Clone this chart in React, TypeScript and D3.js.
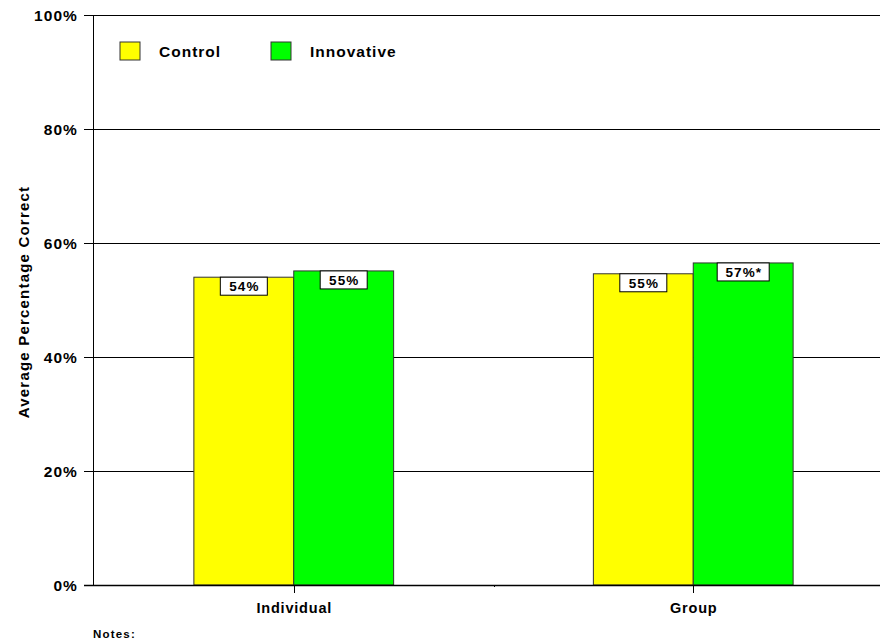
import React from "react";
import * as d3 from "d3";

const categories = ["Individual", "Group"];
const seriesNames = ["Control", "Innovative"];
const controlValues = [54.0, 54.6];
const innovativeValues = [55.1, 56.5];
const controlLabels = ["54%", "55%"];
const innovativeLabels = ["55%", "57%*"];
const yTicks = [0, 20, 40, 60, 80, 100];
const colors = ["#FFFF00", "#00FF00"];

const W = 880;
const H = 643;
const left = 93;
const top = 15;
const bottom = 585;

export default function App() {
  const y = d3.scaleLinear().domain([0, 100]).range([bottom, top]);
  const x = d3.scaleBand().domain(categories).range([left + 1, 893]).padding(0);
  const bw = x.bandwidth();
  const sub = d3.scaleBand().domain(seriesNames).range([bw * 0.25, bw * 0.75]);
  const series = [
    { name: "Control", values: controlValues, labels: controlLabels, color: colors[0] },
    { name: "Innovative", values: innovativeValues, labels: innovativeLabels, color: colors[1] },
  ];
  const font = "'Liberation Sans', Arial, sans-serif";
  const catTicks = [x("Individual")! + bw / 2, x("Individual")! + bw, x("Group")! + bw / 2];

  return (
    <svg width={W} height={H} style={{ position: "absolute", left: 0, top: 0, background: "#fff" }} fontFamily={font}>
      {/* gridlines */}
      {yTicks.map((t) => (
        <g key={t}>
          <line x1={84} x2={W} y1={Math.round(y(t)) + 0.5} y2={Math.round(y(t)) + 0.5} stroke="#000" strokeWidth={1} />
          <text x={78} y={y(t) + 5.5} textAnchor="end" fontSize={15.5} fontWeight="bold" letterSpacing={1.1}>{t + "%"}</text>
        </g>
      ))}
      {/* bars */}
      {series.map((s) =>
        categories.map((c, i) => {
          const bx = x(c)! + sub(s.name)!;
          const by = y(s.values[i]);
          return (
            <rect key={s.name + c} x={bx} y={by} width={sub.bandwidth()} height={bottom - by} fill={s.color} stroke="#333" strokeWidth={1} />
          );
        })
      )}
      {/* axes */}
      <line x1={left + 0.5} x2={left + 0.5} y1={top} y2={bottom} stroke="#000" strokeWidth={1} />
      <line x1={84} x2={W} y1={bottom + 0.5} y2={bottom + 0.5} stroke="#000" strokeWidth={1.3} />
      {catTicks.map((cx, i) => (
        <line key={i} x1={Math.round(cx) + 0.5} x2={Math.round(cx) + 0.5} y1={bottom} y2={i === 1 ? bottom + 2 : bottom + 8} stroke="#000" strokeWidth={1} />
      ))}
      {categories.map((c) => (
        <text key={c} x={x(c)! + bw / 2 + 0.5} y={613} textAnchor="middle" fontSize={14.5} fontWeight="bold" letterSpacing={0.8}>{c}</text>
      ))}
      {/* value labels */}
      {series.map((s) =>
        categories.map((c, i) => {
          const cx = x(c)! + sub(s.name)! + sub.bandwidth() / 2;
          const by = y(s.values[i]);
          const lbl = s.labels[i];
          const w = lbl.length > 3 ? 52 : 47;
          return (
            <g key={"l" + s.name + c}>
              <rect x={cx - w / 2} y={by} width={w} height={18} fill="#fff" stroke="#000" strokeWidth={1} />
              <text x={cx + 0.6} y={by + 14} textAnchor="middle" fontSize={13.5} fontWeight="bold" letterSpacing={1.1}>{lbl}</text>
            </g>
          );
        })
      )}
      {/* legend */}
      {series.map((s, i) => (
        <g key={"leg" + s.name} transform={`translate(${120 + i * 151},42)`}>
          <rect x={0} y={0} width={20} height={18} fill={s.color} stroke="#333" strokeWidth={1} />
          <text x={39} y={14.5} fontSize={15.5} fontWeight="bold" letterSpacing={1}>{s.name}</text>
        </g>
      ))}
      {/* y axis title */}
      <text transform="translate(29,302) rotate(-90)" textAnchor="middle" fontSize={15} fontWeight="bold" letterSpacing={1.2}>Average Percentage Correct</text>
      <text x={93} y={638} fontSize={11.5} fontWeight="bold" letterSpacing={1.2}>Notes:</text>
    </svg>
  );
}
